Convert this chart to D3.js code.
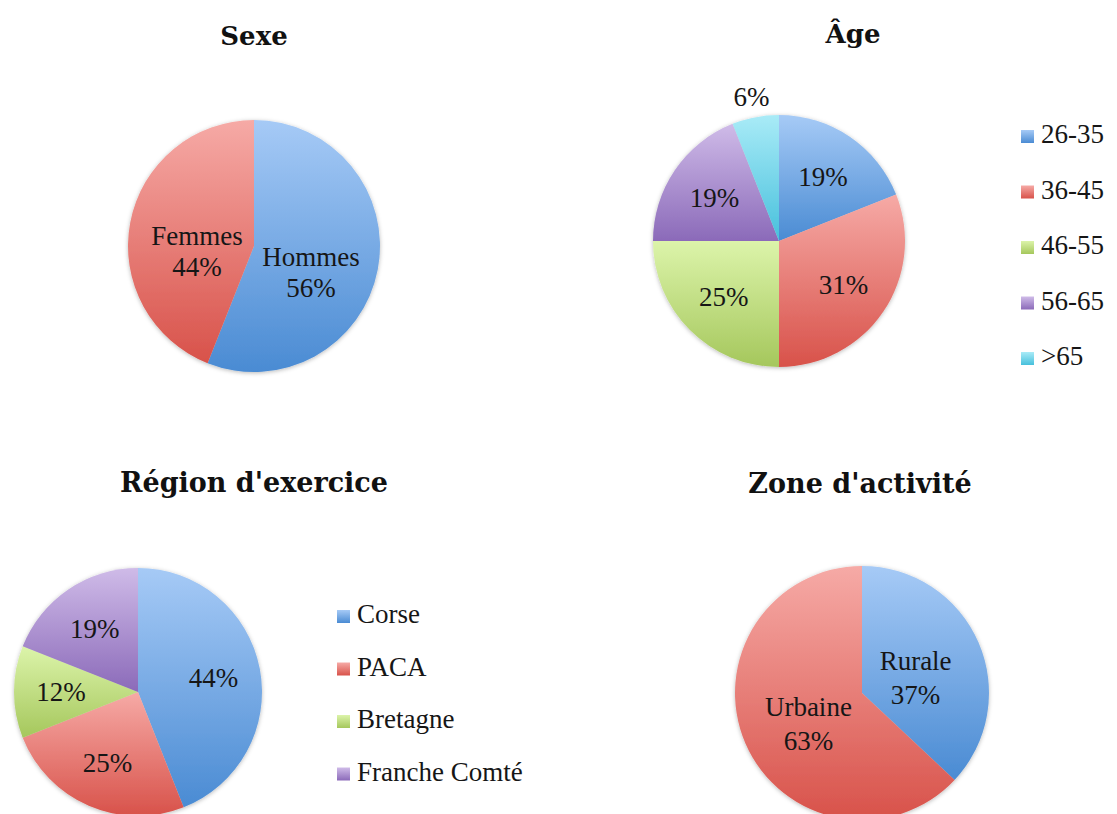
<!DOCTYPE html>
<html>
<head>
<meta charset="utf-8">
<script src="https://cdn.jsdelivr.net/npm/d3@7"></script>
<style>
  body { margin: 0; background: #fff; }
  svg { display: block; }
  .title { font-family: "DejaVu Serif", serif; font-weight: bold; font-size: 26px; fill: #111; }
  .lbl { font-family: "Liberation Serif", serif; font-size: 27px; fill: #161616; }
  .leg { font-family: "Liberation Serif", serif; font-size: 27px; fill: #161616; }
</style>
</head>
<body>
<svg id="chart" width="1117" height="814"></svg>
<script>
// data (percentages)
const sexeLabels = ['Hommes', 'Femmes'];
const sexeValues = [56, 44];

const ageLabels = ['26-35', '36-45', '46-55', '56-65', '>65'];
const ageValues = [19, 31, 25, 19, 6];

const regionLabels = ['Corse', 'PACA', 'Bretagne', 'Franche Comté'];
const regionValues = [44, 25, 12, 19];

const zoneLabels = ['Rurale', 'Urbaine'];
const zoneValues = [37, 63];

// light (top) -> dark (bottom) gradient stops per series colour
const palette = [
  ['#a6caf6', '#4a8bd3'],
  ['#f6aaa6', '#d8524a'],
  ['#dcf4aa', '#a5c75c'],
  ['#cfbbe8', '#8b6ab9'],
  ['#a9ebf7', '#47c0dc']
];

const svg = d3.select('#chart');
const defs = svg.append('defs');

palette.forEach(function(c, i) {
  const g = defs.append('linearGradient')
    .attr('id', 'grad' + i)
    .attr('x1', 0).attr('y1', 0).attr('x2', 0).attr('y2', 1);
  g.append('stop').attr('offset', '0%').attr('stop-color', c[0]);
  g.append('stop').attr('offset', '100%').attr('stop-color', c[1]);
});

const shadow = defs.append('filter').attr('id', 'shadow')
  .attr('x', '-10%').attr('y', '-10%').attr('width', '120%').attr('height', '120%');
shadow.append('feDropShadow')
  .attr('dx', 0).attr('dy', 1).attr('stdDeviation', 2.2)
  .attr('flood-color', '#000').attr('flood-opacity', 0.28);

const charts = [
  { title: 'Sexe', labels: sexeLabels, values: sexeValues,
    cx: 254, cy: 246, r: 126, labelR: 0.46, labelDy: 16, lineGap: 31, showName: true,
    tx: 254, ty: 45, titleSize: 26 },
  { title: 'Âge', labels: ageLabels, values: ageValues,
    cx: 779, cy: 241, r: 126, labelR: 0.62, labelDy: 0, showName: false,
    tx: 853, ty: 43, titleSize: 26, legend: { x: 1021, y: 128, step: 55.5 } },
  { title: "Région d'exercice", labels: regionLabels, values: regionValues,
    cx: 138, cy: 692, r: 124, labelR: 0.62, labelDy: 0, showName: false,
    tx: 254, ty: 492, titleSize: 27, legend: { x: 337, y: 608, step: 52.5 } },
  { title: "Zone d'activité", labels: zoneLabels, values: zoneValues,
    cx: 862, cy: 693, r: 127, labelR: 0.46, labelDy: 8, lineGap: 34, showName: true,
    tx: 860, ty: 493, titleSize: 27 }
];

const pie = d3.pie().sort(null).value(d => d.value);

function drawChart(c) {
  const data = c.labels.map((l, i) => ({ label: l, value: c.values[i], idx: i }));
  const arcs = pie(data);
  const arc = d3.arc().innerRadius(0).outerRadius(c.r);
  const labelArc = d3.arc().innerRadius(c.r * c.labelR).outerRadius(c.r * c.labelR);
  const outArc = d3.arc().innerRadius(c.r + 21).outerRadius(c.r + 21);

  svg.append('text')
    .attr('class', 'title')
    .style('font-size', c.titleSize + 'px')
    .attr('x', c.tx).attr('y', c.ty)
    .attr('text-anchor', 'middle')
    .text(c.title);

  const g = svg.append('g').attr('transform', `translate(${c.cx},${c.cy})`);

  g.append('g')
    .attr('filter', 'url(#shadow)')
    .selectAll('path')
    .data(arcs)
    .join('path')
    .attr('d', arc)
    .attr('fill', d => `url(#grad${d.data.idx})`);

  const lab = g.append('g').selectAll('text')
    .data(arcs)
    .join('text')
    .attr('class', 'lbl')
    .attr('text-anchor', 'middle')
    .attr('transform', function(d) {
      const small = (d.endAngle - d.startAngle) < 0.5;
      const p = small ? outArc.centroid(d) : labelArc.centroid(d);
      return `translate(${p[0]},${p[1] + c.labelDy})`;
    });

  if (c.showName) {
    lab.append('tspan').attr('x', 0).attr('y', -c.lineGap / 2 + 9).text(d => d.data.label);
    lab.append('tspan').attr('x', 0).attr('y', c.lineGap / 2 + 9).text(d => d.data.value + '%');
  } else {
    lab.attr('dy', '0.35em').text(d => d.data.value + '%');
  }

  if (c.legend) {
    const lg = svg.append('g');
    const items = lg.selectAll('g')
      .data(data)
      .join('g')
      .attr('transform', (d, i) => `translate(${c.legend.x},${c.legend.y + i * c.legend.step})`);
    items.append('rect')
      .attr('y', 2)
      .attr('width', 13).attr('height', 13)
      .attr('fill', d => `url(#grad${d.idx})`);
    items.append('text')
      .attr('class', 'leg')
      .attr('x', 20).attr('y', 15)
      .text(d => d.label);
  }
}

charts.forEach(drawChart);
</script>
</body>
</html>
